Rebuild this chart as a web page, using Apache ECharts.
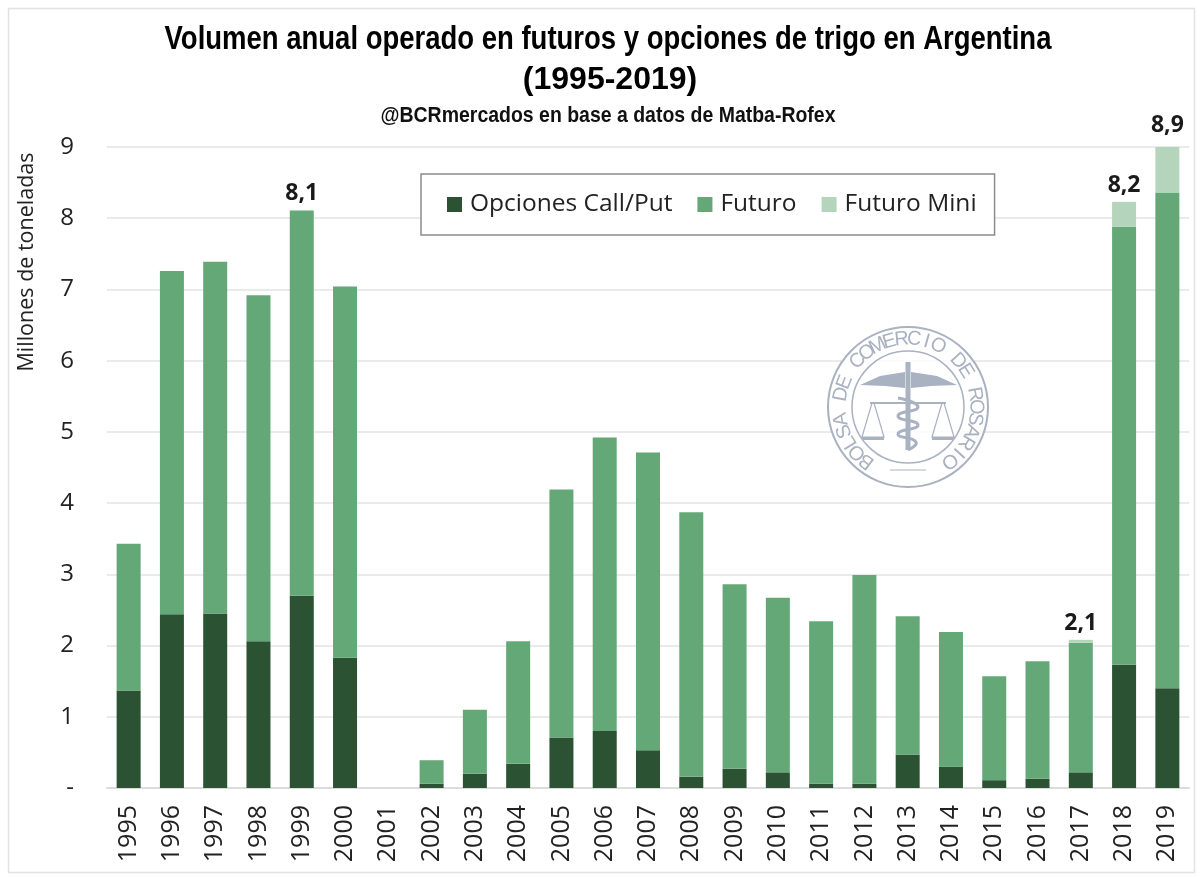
<!DOCTYPE html>
<html><head><meta charset="utf-8">
<style>html,body{margin:0;padding:0;background:#fff}#c{width:1203px;height:877px}</style>
<script src="https://cdn.jsdelivr.net/npm/echarts@6/dist/echarts.min.js"></script>
</head><body><div id="c"></div>
<script>
const years=['1995','1996','1997','1998','1999','2000','2001','2002','2003','2004','2005','2006','2007','2008','2009','2010','2011','2012','2013','2014','2015','2016','2017','2018','2019'];
const opciones=[1.37,2.44,2.45,2.06,2.70,1.83,0,0.06,0.20,0.34,0.71,0.80,0.53,0.16,0.27,0.22,0.06,0.06,0.47,0.30,0.11,0.13,0.22,1.73,1.40];
const futuro=[2.06,4.82,4.94,4.86,5.41,5.21,0,0.33,0.90,1.72,3.48,4.12,4.18,3.71,2.59,2.45,2.28,2.93,1.94,1.89,1.46,1.65,1.82,6.15,6.96];
const mini=[0,0,0,0,0,0,0,0,0,0,0,0,0,0,0,0,0,0,0,0,0,0,0.04,0.35,0.64];
const etiquetas=['','','','','8,1','','','','','','','','','','','','','','','','','','2,1','8,2','8,9'];
const yTicks=['-','1','2','3','4','5','6','7','8','9'];
const titulo='Volumen anual operado en futuros y opciones de trigo en Argentina';
const periodo='(1995-2019)';
const fuente='@BCRmercados en base a datos de Matba-Rofex';
const ejeY='Millones de toneladas';
const sello='BOLSA DE COMERCIO DE ROSARIO';

const chart=echarts.init(document.getElementById('c'));
const font='"Open Sans"', head='"Liberation Sans"';
const selloColor='#a9b2c1';
const cx=908,cy=407;
const g=[
 {type:'rect',z:-1,shape:{x:8.5,y:8.5,width:1186,height:864},style:{fill:'#fff',stroke:'#e2e2e2',lineWidth:1.5}},
 {type:'circle',z:1,shape:{cx,cy,r:80},style:{fill:'rgba(255,255,255,0.8)',stroke:selloColor,lineWidth:2}},
 {type:'circle',z:1,shape:{cx,cy,r:56},style:{fill:'none',stroke:selloColor,lineWidth:1.5}},
 {type:'polygon',z:1,shape:{points:[[860,385],[880,376],[905,372],[905,388],[885,386]]},style:{fill:selloColor}},
 {type:'polygon',z:1,shape:{points:[[957,385],[937,376],[911,372],[911,388],[931,386]]},style:{fill:selloColor}},
 {type:'rect',z:1,shape:{x:905.5,y:362,width:5,height:88},style:{fill:selloColor}},
 {type:'polyline',z:1,shape:{points:[[898,398],[918,407],[898,416],[918,425],[898,434],[916,442],[908,450]],smooth:0.6},style:{fill:'none',stroke:selloColor,lineWidth:3}},
 {type:'line',z:1,shape:{x1:870,y1:403,x2:946,y2:403},style:{stroke:selloColor,lineWidth:2}},
 {type:'polyline',z:1,shape:{points:[[872,403],[862,437],[884,437],[874,403]]},style:{fill:'none',stroke:selloColor,lineWidth:1.2}},
 {type:'polyline',z:1,shape:{points:[[942,403],[932,437],[954,437],[944,403]]},style:{fill:'none',stroke:selloColor,lineWidth:1.2}},
 {type:'rect',z:1,shape:{x:862,y:437,width:22,height:3},style:{fill:selloColor}},
 {type:'rect',z:1,shape:{x:932,y:437,width:22,height:3},style:{fill:selloColor}},
 {type:'line',z:1,shape:{x1:890,y1:470,x2:926,y2:470},style:{stroke:selloColor,lineWidth:1}}
];
const n=sello.length, arco=285*Math.PI/180;
[...sello].forEach((ch,i)=>{
  const a=-Math.PI/2-arco/2+arco*i/(n-1);
  g.push({type:'text',z:2,x:cx+68*Math.cos(a),y:cy+68*Math.sin(a),rotation:-(a+Math.PI/2),
    style:{text:ch,font:'20px "Liberation Sans"',fill:selloColor,align:'center',verticalAlign:'middle'}});
});
const linea=(text,x,y,size,sx,color)=>({type:'text',z:6,x,y,scaleX:sx,
  style:{text,font:'bold '+size+'px '+head,fill:color,align:'center',verticalAlign:'middle'}});
g.push(linea(titulo,608,40,33,0.833,'#000'));
g.push(linea(periodo,610,80,32,1,'#000'));
g.push(linea(fuente,608,116,22,0.885,'#111'));
g.push({type:'text',x:27,y:262,rotation:Math.PI/2,style:{text:ejeY,font:'21.5px '+font,fill:'#222',align:'center',verticalAlign:'middle'}});

const barra=(name,data,color)=>({name,type:'bar',stack:'t',data,barWidth:24,itemStyle:{color}});
const ultimo=mini.length-1;
const miniSerie=barra('Futuro Mini',mini.map((v,i)=>i===ultimo?{value:v,label:{distance:10}}:v),'#b4d5bb');
miniSerie.z=3;
miniSerie.label={show:true,position:'top',distance:5,formatter:p=>etiquetas[p.dataIndex],
  fontFamily:font,fontWeight:'bold',fontSize:23,color:'#1a1a1a'};

chart.setOption({
 animation:false,backgroundColor:'#fff',
 grid:{left:107,right:14,top:147,bottom:89,outerBoundsMode:'none'},
 legend:{data:['Opciones Call/Put','Futuro','Futuro Mini'],left:421,top:174,
  padding:[18,18,18,26],itemGap:25,itemWidth:15,itemHeight:15,icon:'rect',
  borderColor:'#8c8c8c',borderWidth:1.5,backgroundColor:'#fff',z:5,
  textStyle:{fontFamily:font,fontSize:24.5,color:'#222',padding:[0,0,0,3]}},
 xAxis:{type:'category',data:years,
  axisTick:{show:false},axisLine:{lineStyle:{color:'#dcdcdc',width:2}},
  axisLabel:{rotate:90,interval:0,margin:17,fontFamily:font,fontSize:25,color:'#222'}},
 yAxis:{type:'value',min:0,max:9,interval:1,
  axisLine:{show:false},axisTick:{show:false},
  splitLine:{lineStyle:{color:'#e3e3e3',width:1.5}},
  axisLabel:{margin:33,fontFamily:font,fontSize:24,color:'#222',formatter:(v)=>yTicks[v]}},
 series:[barra('Opciones Call/Put',opciones,'#2b5233'),barra('Futuro',futuro,'#64a877'),miniSerie],
 graphic:g
});
</script></body></html>
